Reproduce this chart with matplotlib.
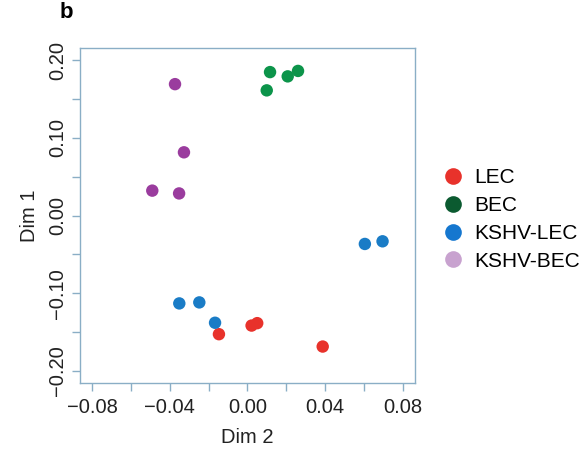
import matplotlib
matplotlib.use("Agg")
import matplotlib.pyplot as plt
from matplotlib.ticker import MultipleLocator, FixedLocator
from matplotlib.lines import Line2D

plt.rcParams['font.family'] = ['Liberation Sans', 'DejaVu Sans']

# MDS coordinates per group
groups = ["LEC", "BEC", "KSHV-LEC", "KSHV-BEC"]
lec_dim2 = [-0.0147, 0.0021, 0.0050, 0.0387]
lec_dim1 = [-0.1527, -0.1416, -0.1385, -0.1686]
bec_dim2 = [0.0116, 0.0207, 0.0260, 0.0099]
bec_dim1 = [0.1845, 0.1790, 0.1860, 0.1610]
klec_dim2 = [0.0604, 0.0695, -0.0351, -0.0248, -0.0167]
klec_dim1 = [-0.0366, -0.0332, -0.1131, -0.1118, -0.1380]
kbec_dim2 = [-0.0373, -0.0327, -0.0490, -0.0352]
kbec_dim1 = [0.1690, 0.0813, 0.0320, 0.0284]

xticks = [-0.08, -0.04, 0.00, 0.04, 0.08]
yticks = [-0.20, -0.10, 0.00, 0.10, 0.20]

point_colors = ["#e8322b", "#0c944a", "#1a7cc6", "#9a3c9e"]
legend_colors = ["#e8322b", "#0b5a30", "#1577cf", "#c8a2cf"]
frame_color = "#8aaec6"
text_color = "#222222"
fs = 14.5

fig = plt.figure(figsize=(5.82, 4.51), dpi=100)
ax = fig.add_axes([80 / 582, 68 / 451, 335 / 582, 335 / 451])

series = [(lec_dim2, lec_dim1), (bec_dim2, bec_dim1),
          (klec_dim2, klec_dim1), (kbec_dim2, kbec_dim1)]
for (xs, ys), c in zip(series, point_colors):
    ax.scatter(xs, ys, s=80, color=c, edgecolors='none', zorder=3)

ax.set_xlim(-0.0862, 0.0862)
ax.set_ylim(-0.2155, 0.2155)
ax.xaxis.set_major_locator(FixedLocator(xticks))
ax.yaxis.set_major_locator(FixedLocator(yticks))
ax.xaxis.set_minor_locator(MultipleLocator(0.02))
ax.yaxis.set_minor_locator(MultipleLocator(0.05))
ax.set_xticklabels([f"{v:.2f}".replace("-", "\u2212") for v in xticks])
ax.set_yticklabels([f"{v:.2f}".replace("-", "\u2212") for v in yticks],
                   rotation=90, va='center')

for side in ["top", "right", "left", "bottom"]:
    ax.spines[side].set_color(frame_color)
    ax.spines[side].set_linewidth(1.0)
ax.tick_params(which='both', direction='out', length=6, width=1.0,
               color=frame_color, labelsize=fs, labelcolor=text_color)
ax.tick_params(axis='x', pad=5)
ax.tick_params(axis='y', pad=3)

ax.set_xlabel("Dim 2", fontsize=fs, color=text_color, labelpad=8)
ax.set_ylabel("Dim 1", fontsize=fs, color=text_color, labelpad=7)

handles = [Line2D([], [], marker='o', linestyle='none', markersize=12,
                  markerfacecolor=c, markeredgecolor='none') for c in legend_colors]
fig.legend(handles, groups, loc='upper left', bbox_to_anchor=(432 / 582, 1 - 160 / 451),
           frameon=False, fontsize=15, handletextpad=0.45, labelspacing=0.42,
           handlelength=1.2, borderaxespad=0)

fig.text(60 / 582, 1 - 13 / 451, "b", fontsize=16, fontweight='bold', va='center')

fig.savefig("out.png", dpi=100)
